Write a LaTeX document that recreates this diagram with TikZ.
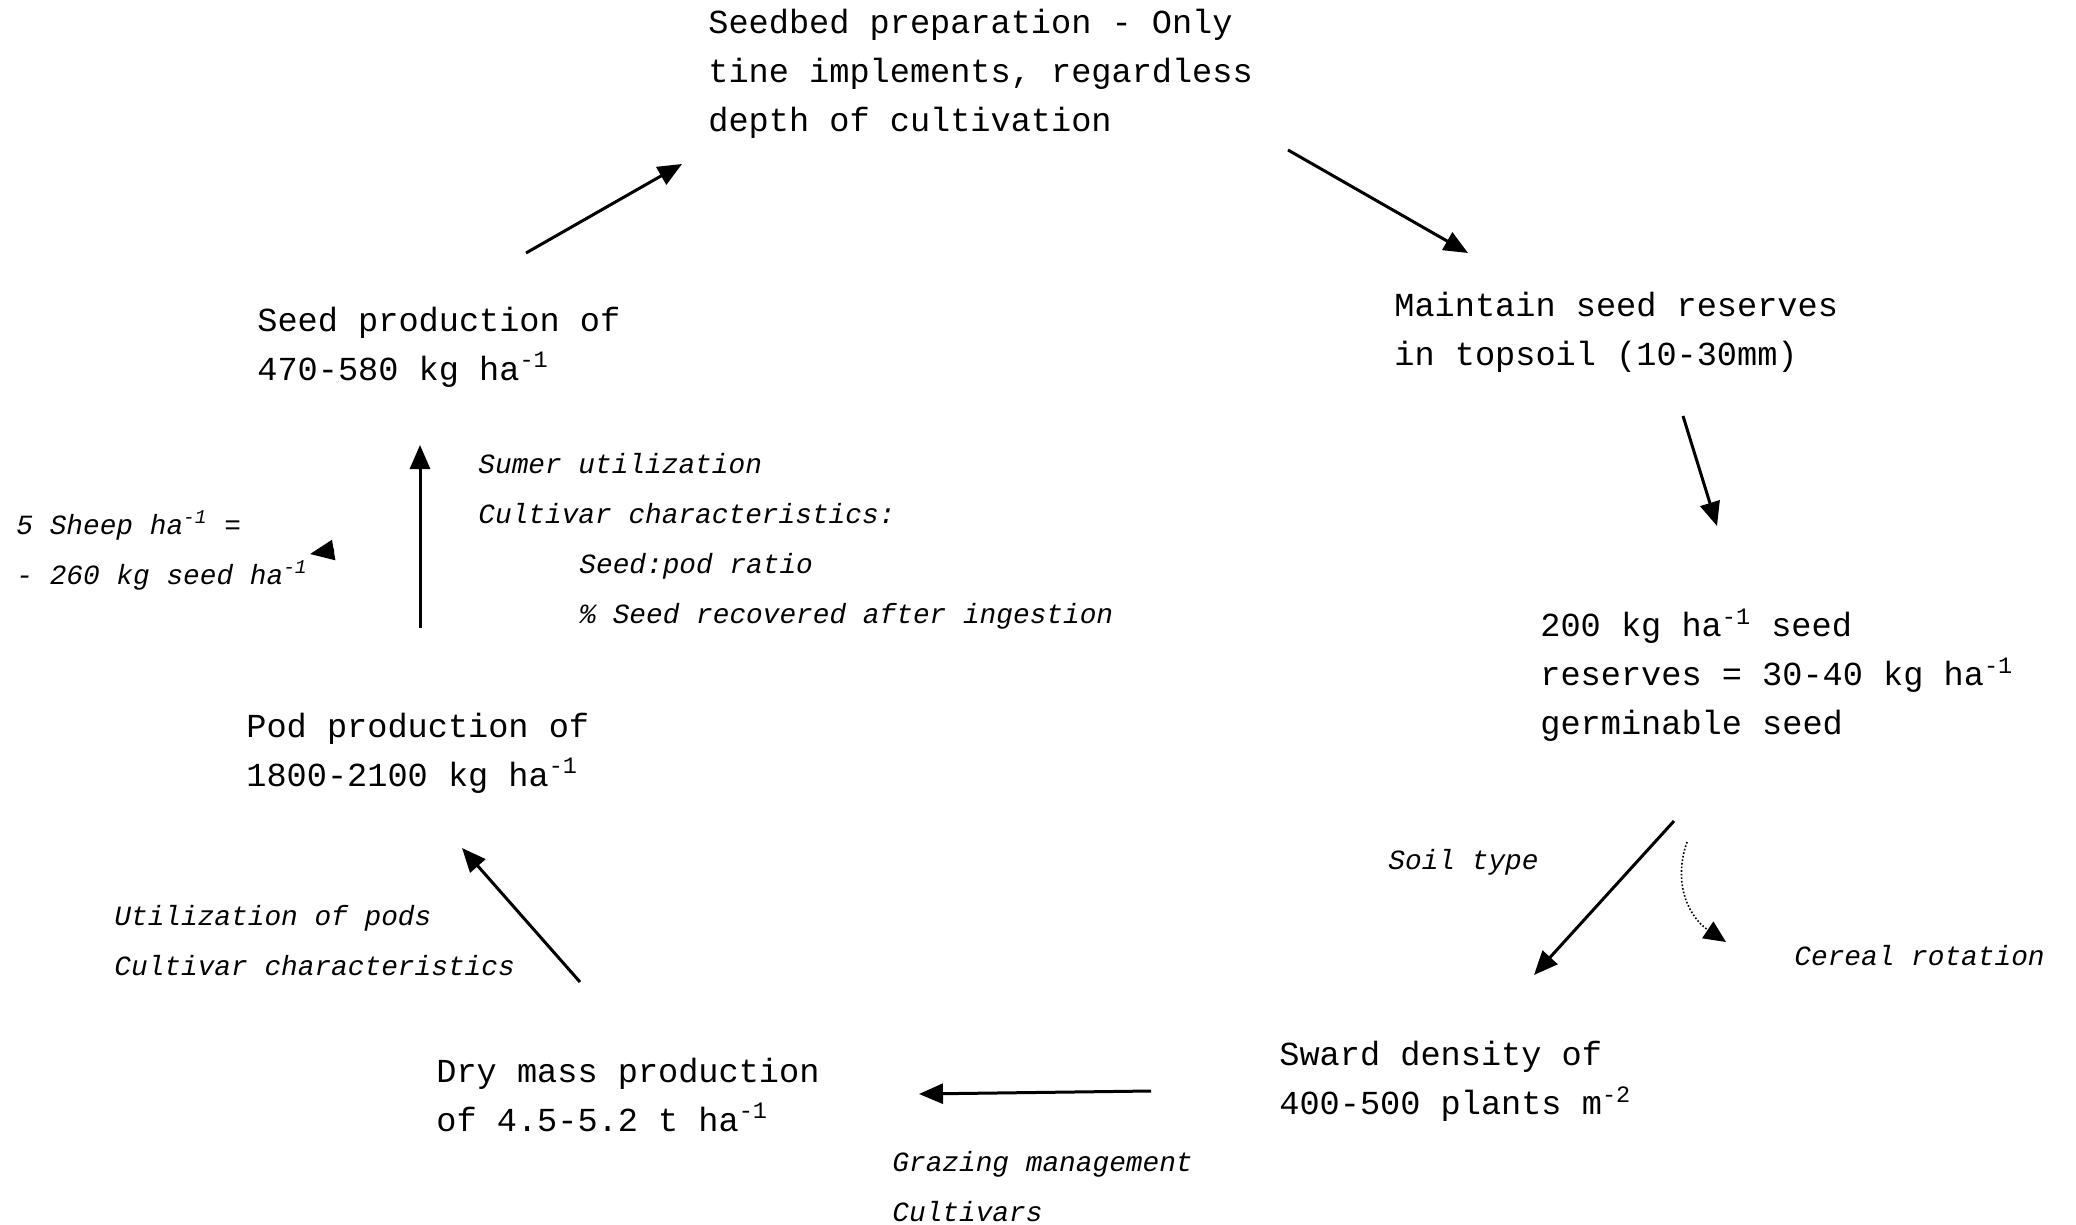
\documentclass[tikz,border=0pt]{standalone}
\usepackage{fontspec}
\setmonofont{Liberation Mono}
\usetikzlibrary{arrows.meta}
\begin{document}
\begin{tikzpicture}[x=0.5pt,y=-0.5pt,
  mainbox/.style={font=\ttfamily\fontsize{16.8}{24.5}\selectfont, align=left, inner sep=0pt, anchor=west},
  notebox/.style={font=\ttfamily\itshape\fontsize{13.9}{25}\selectfont, align=left, inner sep=0pt, anchor=west},
  arr/.style={line width=1.5pt, -{Triangle[length=12pt,width=10pt]}},
  dotarr/.style={line width=0.8pt, densely dotted, -{Triangle[length=11pt,width=10pt]}}]
\useasboundingbox (0,0) rectangle (2076,1225);
% main blocks
\node[mainbox] (seedbed) at (708,74) {Seedbed preparation - Only\\tine implements, regardless\\depth of cultivation};
\node[mainbox] (maintain) at (1394,332.5) {Maintain seed reserves\\in topsoil (10-30mm)};
\node[mainbox] (reserves) at (1540,675) {200 kg ha\textsuperscript{-1} seed\\reserves = 30-40 kg ha\textsuperscript{-1}\\germinable seed};
\node[mainbox] (sward) at (1279,1081.5) {Sward density of\\400-500 plants m\textsuperscript{-2}};
\node[mainbox] (drymass) at (436,1095) {Dry mass production\\of 4.5-5.2 t ha\textsuperscript{-1}};
\node[mainbox] (pod) at (246,753) {Pod production of\\1800-2100 kg ha\textsuperscript{-1}};
\node[mainbox] (seedprod) at (257,347) {Seed production of\\470-580 kg ha\textsuperscript{-1}};
% notes
\node[notebox] (sumer) at (478,541) {Sumer utilization\\Cultivar characteristics:\\\hspace*{50.5pt}Seed:pod ratio\\\hspace*{50.5pt}\% Seed recovered after ingestion};
\node[notebox] (sheep) at (16,550.5) {5 Sheep ha\textsuperscript{-1} =\\- 260 kg seed ha\textsuperscript{-1}};
\node[notebox] (soil) at (1388,862) {Soil type};
\node[notebox] (cereal) at (1794,956) {Cereal rotation};
\node[notebox] (utilpods) at (114,940.5) {Utilization of pods\\Cultivar characteristics};
\node[notebox] (grazing) at (892,1187) {Grazing management\\Cultivars};
% connector end points
\coordinate (a1s) at (526,253);  \coordinate (a1e) at (682,164);
\coordinate (a2s) at (1288,150); \coordinate (a2e) at (1468,253);
\coordinate (a3s) at (1683,416); \coordinate (a3e) at (1717,526);
\coordinate (a4s) at (1674,821); \coordinate (a4e) at (1534,975);
\coordinate (c1s) at (1687,842); \coordinate (c1e) at (1726,942);
\coordinate (a5s) at (1151,1091); \coordinate (a5e) at (919,1094);
\coordinate (a6s) at (580,982);  \coordinate (a6e) at (462,848);
\coordinate (a7s) at (420,628);  \coordinate (a7e) at (420,445);
\coordinate (shs) at (334,550);  \coordinate (she) at (310,554);
% connectors
\draw[arr] (a1s) -- (a1e);
\draw[arr] (a2s) -- (a2e);
\draw[arr] (a3s) -- (a3e);
\draw[arr] (a4s) -- (a4e);
\draw[dotarr] (c1s) .. controls (1672,885) and (1690,918) .. (c1e);
\draw[arr] (a5s) -- (a5e);
\draw[arr] (a6s) -- (a6e);
\draw[arr] (a7s) -- (a7e);
\draw[arr] (shs) -- (she);
\end{tikzpicture}
\end{document}
